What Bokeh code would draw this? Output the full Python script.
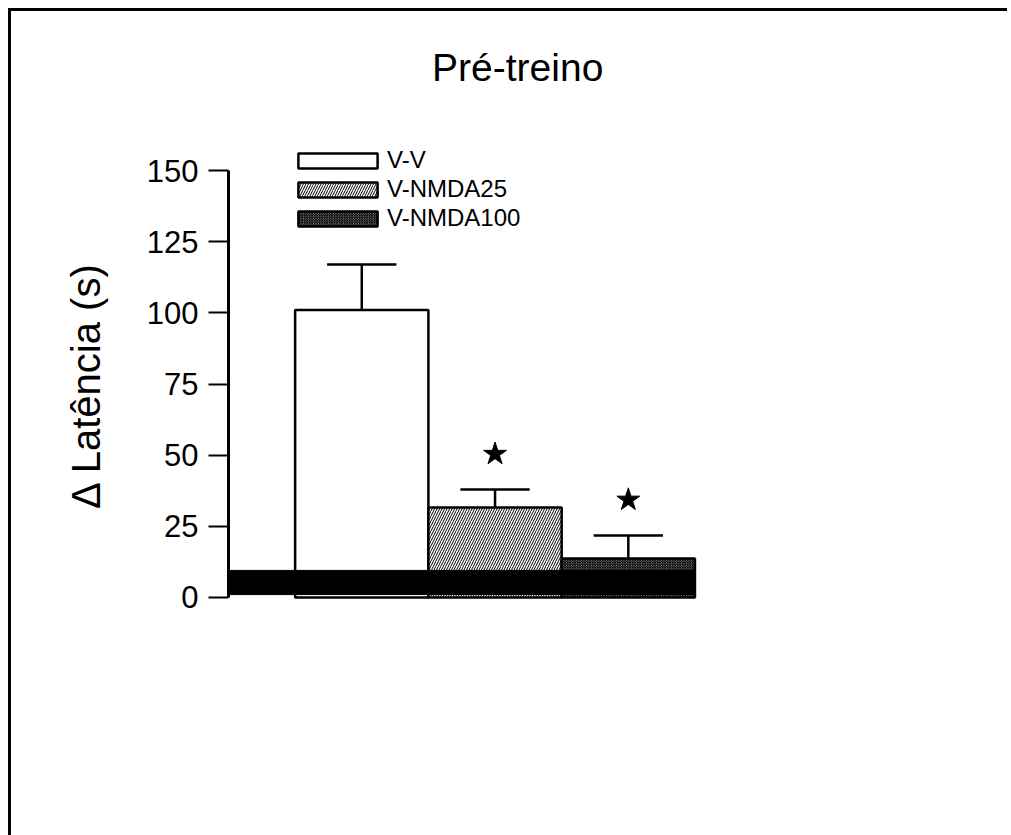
from bokeh.plotting import figure
from bokeh.models import Range1d, FixedTicker, Legend, LegendItem, Label, ColumnDataSource
from bokeh.embed import file_html
from bokeh.resources import INLINE

# ---- data ----
groups = ["V-V", "V-NMDA25", "V-NMDA100"]
positions = [1, 2, 3]
means = [101.0, 31.6, 13.7]
sems = [16.0, 6.3, 8.1]
significant = [False, True, True]
y_ticks = [0, 25, 50, 75, 100, 125, 150]
title_text = "Pré-treino"
y_label = "Δ Latência (s)"

FONT = "Liberation Sans"

p = figure(frame_width=733, frame_height=714,
           min_border_left=217, min_border_top=17, min_border_right=46, min_border_bottom=93,
           x_range=Range1d(0, 5.5), y_range=Range1d(-51, 200),
           output_backend="svg", toolbar_location=None, tools="")
p.styles = {"margin-left": "8px", "margin-top": "8px", "overflow": "hidden",
            "border-left": "3px solid black", "border-top": "3px solid black"}
p.outline_line_color = None
p.background_fill_color = "white"
p.border_fill_color = "white"
p.xgrid.visible = False
p.ygrid.visible = False
p.xaxis.visible = False

ax = p.yaxis[0]
ax.bounds = (0, 150)
ax.ticker = FixedTicker(ticks=y_ticks)
ax.minor_tick_line_color = None
ax.major_tick_out = 20
ax.major_tick_in = 0
ax.axis_line_width = 3
ax.major_tick_line_width = 2
ax.major_label_text_font = FONT
ax.major_label_text_font_size = "31px"
ax.major_label_text_color = "black"
ax.major_label_standoff = 10
ax.axis_label = y_label
ax.axis_label_text_font = FONT
ax.axis_label_text_font_size = "40px"
ax.axis_label_text_font_style = "normal"
ax.axis_label_text_color = "black"
ax.axis_label_standoff = 36

styles = [
    dict(fill_color="white"),
    dict(fill_color="white", hatch_pattern="right_diagonal_line", hatch_scale=5, hatch_weight=1, hatch_color="black"),
    dict(fill_color="white", hatch_pattern="diagonal_cross", hatch_scale=2.5, hatch_weight=1.5, hatch_color="black"),
]
renderers = []
for i in range(3):
    src = ColumnDataSource(dict(x=[positions[i]], top=[means[i]]))
    r = p.vbar(x="x", top="top", bottom=0, width=1, source=src,
               line_color="black", line_width=2.5, **styles[i])
    renderers.append(r)

# black band at base
p.quad(left=[0], right=[positions[-1] + 0.5], bottom=[1], top=[9.5], fill_color="black", line_color="black")

# error bars
tops = [m + s for m, s in zip(means, sems)]
p.segment(x0=positions, y0=means, x1=positions, y1=tops, line_color="black", line_width=2.5)
p.segment(x0=[x - 0.26 for x in positions], y0=tops, x1=[x + 0.26 for x in positions], y1=tops,
          line_color="black", line_width=2.5)

# significance stars
sx = [positions[i] for i in range(3) if significant[i]]
sy = [tops[i] + 12.5 for i in range(3) if significant[i]]
p.scatter(x=sx, y=sy, marker="star", size=24, fill_color="black", line_color="black")

legend = Legend(items=[LegendItem(label=g, renderers=[r]) for g, r in zip(groups, renderers)],
                location=(60, 510), orientation="vertical",
                glyph_width=99, glyph_height=19, label_standoff=0, spacing=1,
                padding=0, margin=0, border_line_color=None, background_fill_alpha=0,
                label_text_font=FONT, label_text_font_size="24px", label_text_color="black",
                label_height=20)
p.add_layout(legend, "center")

p.add_layout(Label(x=2.17, y=186.3, text=title_text, text_align="center", text_baseline="alphabetic",
                   text_font=FONT, text_font_size="39px", text_color="black"))

open("out.html", "w").write(file_html(p, INLINE))
